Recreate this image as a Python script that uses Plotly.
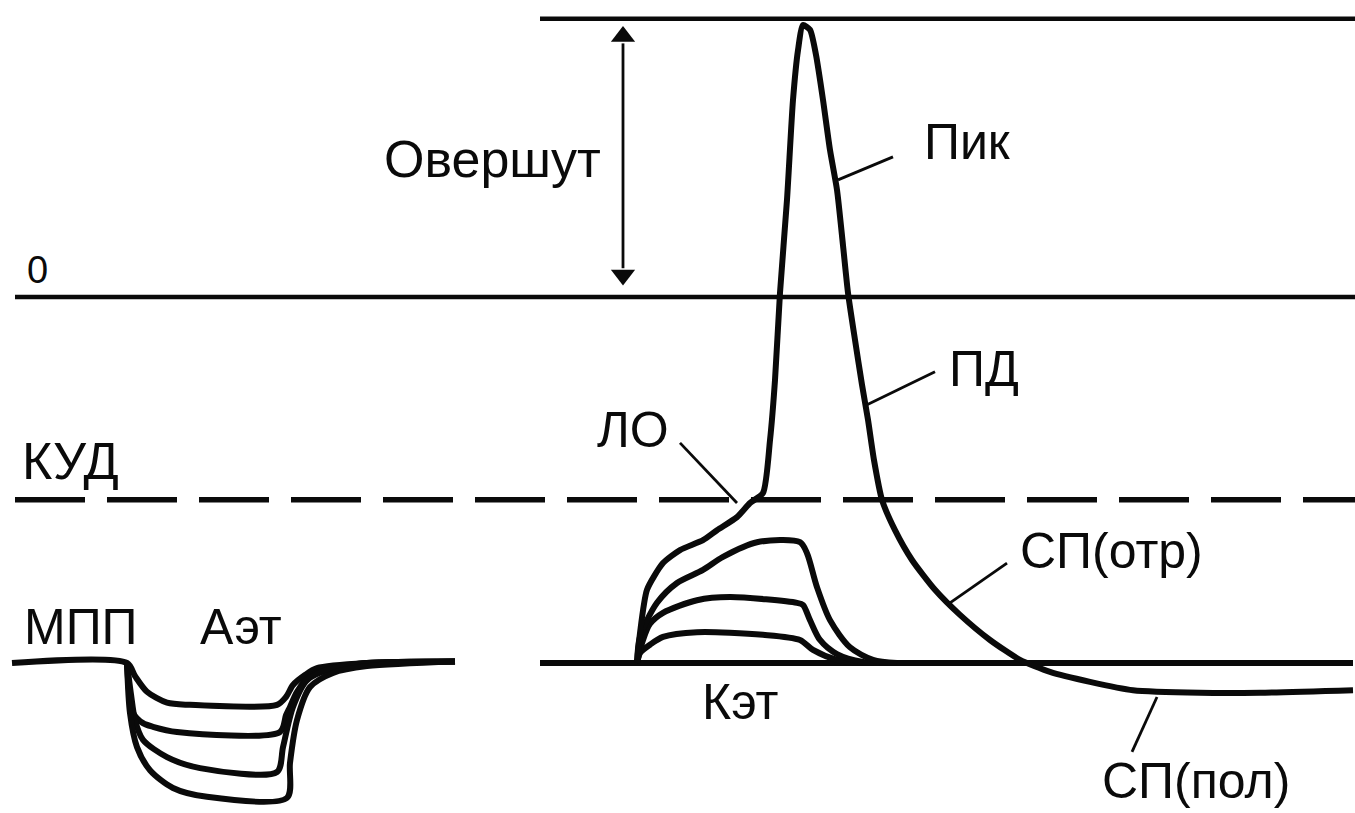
import plotly.graph_objects as go

# ---- data (time in ms, membrane potential in mV) ----
# reference levels
top_t = [5.40, 13.55];  top_v = [53.2, 53.2]          # overshoot peak level
zero_t = [0.15, 13.55]; zero_v = [0.0, 0.0]           # 0 mV
kud_t = [0.15, 13.55];  kud_v = [-38.8, -38.8]        # threshold (КУД)
base_t = [5.40, 13.53]; base_v = [-70.0, -70.0]       # resting potential, right part

# anelectrotonic (Аэт) responses
a1_t = [0.12, 1.27, 1.35, 1.47, 1.67, 1.90, 2.77, 2.86, 2.93, 3.05, 3.17, 3.67, 4.55]
a1_v = [-70.0, -70.0, -72.5, -75.5, -77.6, -78.0, -78.0, -76.5, -74.2, -72.3, -71.0, -70.0, -69.7]
a2_t = [1.27, 1.33, 1.43, 1.53, 1.77, 2.80, 2.86, 2.90, 2.97, 3.10, 3.33, 3.67, 4.55]
a2_v = [-70.0, -79.5, -81.5, -82.2, -83.2, -83.2, -80.0, -78.4, -75.5, -72.5, -71.0, -70.0, -69.7]
a3_t = [1.27, 1.31, 1.35, 1.43, 1.67, 2.00, 2.77, 2.83, 2.93, 3.07, 3.33, 3.67, 4.55]
a3_v = [-70.0, -76.0, -80.9, -84.7, -88.0, -90.1, -90.85, -86.1, -78.4, -73.3, -71.0, -70.0, -69.7]
a4_t = [1.27, 1.30, 1.37, 1.50, 1.73, 2.07, 2.87, 2.90, 2.97, 3.10, 3.33, 3.67, 4.55]
a4_v = [-70.0, -79.6, -86.1, -90.5, -93.9, -95.6, -95.8, -89.1, -80.9, -74.6, -71.9, -70.6, -69.7]

# catelectrotonic (Кэт) responses
k1_t = [6.37, 6.40, 6.50, 6.63, 6.97, 7.63, 8.00, 8.13, 8.37, 8.63]
k1_v = [-70.0, -68.1, -66.5, -65.0, -64.1, -64.6, -65.6, -67.5, -69.4, -70.0]
k2_t = [6.37, 6.43, 6.50, 6.63, 6.97, 7.30, 7.97, 8.03, 8.10, 8.20, 8.37, 8.63, 8.80]
k2_v = [-70.0, -65.6, -62.5, -60.4, -58.0, -57.4, -58.5, -58.9, -61.8, -65.6, -68.3, -69.8, -70.0]
k3_t = [6.37, 6.40, 6.57, 6.77, 7.03, 7.23, 7.57, 8.00, 8.07, 8.17, 8.30, 8.50, 8.73, 8.97]
k3_v = [-70.0, -65.0, -58.5, -54.7, -52.2, -49.7, -46.9, -46.9, -49.0, -55.5, -61.8, -67.0, -69.4, -70.0]

# local response (ЛО) growing into the action potential (ПД) with trace potentials
ap_t = [6.37, 6.40, 6.47, 6.63, 6.80, 7.03, 7.17, 7.37, 7.50, 7.63,
        7.70, 7.75, 7.80, 7.87, 7.93, 7.98, 8.03, 8.10, 8.16, 8.23, 8.30, 8.37, 8.43, 8.48,
        8.55, 8.62, 8.68, 8.74, 8.82, 8.95, 9.12, 9.35, 9.60, 9.90, 10.20, 10.50, 10.90, 11.33,
        12.00, 12.60, 13.53]
ap_v = [-70.0, -64.3, -56.0, -50.9, -48.4, -46.5, -44.6, -42.1, -39.4, -37.5,
        -27.4, -15.9, 0.8, 18.6, 37.7, 47.2, 52.0, 51.1, 46.3, 37.7, 28.1, 20.5, 9.9, 0.8,
        -8.2, -16.8, -23.5, -31.2, -38.8, -44.6, -50.3, -56.0, -60.8, -65.6, -69.4, -71.7, -73.6, -75.2,
        -75.7, -75.7, -75.2]

# overshoot arrow
arrow_t = 6.23
arrow_top_v = 52.0
arrow_bot_v = 2.0

# labels: text, left x (ms), centre y (mV), font size
label_text = ["Овершут", "Пик", "ПД", "ЛО", "КУД", "0", "МПП", "Аэт", "Кэт", "СП(отр)", "СП(пол)"]
label_t = [3.82, 9.22, 9.47, 5.95, 0.20, 0.25, 0.22, 1.98, 7.00, 10.18, 11.00]
label_v = [26.4, 29.6, -13.8, -25.4, -31.3, 5.2, -63.2, -63.2, -77.5, -48.6, -92.6]
label_size = [52, 50, 50, 50, 52, 38, 50, 50, 50, 50, 50]

# leader lines: (t0, v0, t1, v1)
leaders = [
    (8.38, 22.4, 8.93, 26.8),     # Пик
    (8.66, -20.7, 9.35, -14.3),   # ПД
    (6.80, -27.9, 7.37, -39.4),   # ЛО
    (9.50, -58.5, 10.07, -50.9),  # СП(отр)
    (11.57, -76.5, 11.32, -87.0), # СП(пол)
]

INK = "#0a0a0a"
FONT = "Liberation Sans, Arial, sans-serif"
W_MAIN = 6

fig = go.Figure()

def add_line(t, v, width=W_MAIN, dash=None, shape="linear", smoothing=1.0):
    line = dict(color=INK, width=width, shape=shape)
    if shape == "spline":
        line["smoothing"] = smoothing
    if dash:
        line["dash"] = dash
    fig.add_trace(go.Scatter(x=t, y=v, mode="lines", line=line, hoverinfo="skip", showlegend=False))

add_line(top_t, top_v, width=4.5)
add_line(zero_t, zero_v, width=4.5)
add_line(kud_t, kud_v, width=5.5, dash="70px,22px")
add_line(base_t, base_v, width=W_MAIN)

for t, v in [(a1_t, a1_v), (a2_t, a2_v), (a3_t, a3_v), (a4_t, a4_v)]:
    add_line(t, v, shape="spline", smoothing=0.8)
for t, v in [(k1_t, k1_v), (k2_t, k2_v), (k3_t, k3_v)]:
    add_line(t, v, shape="spline", smoothing=0.8)
add_line(ap_t, ap_v, shape="spline", smoothing=0.6)

for (t0, v0, t1, v1) in leaders:
    add_line([t0, t1], [v0, v1], width=2.8)

# overshoot double arrow
fig.add_trace(go.Scatter(x=[arrow_t, arrow_t], y=[arrow_top_v - 3.5, arrow_bot_v + 3.5], mode="lines",
                         line=dict(color=INK, width=2.8), hoverinfo="skip", showlegend=False))
fig.add_trace(go.Scatter(x=[arrow_t, arrow_t], y=[arrow_top_v - 2.2, arrow_bot_v + 2.2], mode="markers",
                         marker=dict(symbol=["triangle-up", "triangle-down"], size=21, color=INK),
                         hoverinfo="skip", showlegend=False))

for txt, t, v, s in zip(label_text, label_t, label_v, label_size):
    fig.add_annotation(x=t, y=v, text=txt, showarrow=False, xanchor="left", yanchor="middle",
                       font=dict(family=FONT, size=s, color=INK))

fig.update_layout(
    width=1355, height=813,
    margin=dict(l=0, r=0, t=0, b=0),
    paper_bgcolor="white", plot_bgcolor="white",
    xaxis=dict(range=[0, 13.55], visible=False, fixedrange=True),
    yaxis=dict(range=[-98.69, 56.80], visible=False, fixedrange=True),
    showlegend=False,
)

fig.write_html("out.html", config={"displayModeBar": False},
               post_script="document.body.style.margin='0';document.body.style.overflow='hidden';")
